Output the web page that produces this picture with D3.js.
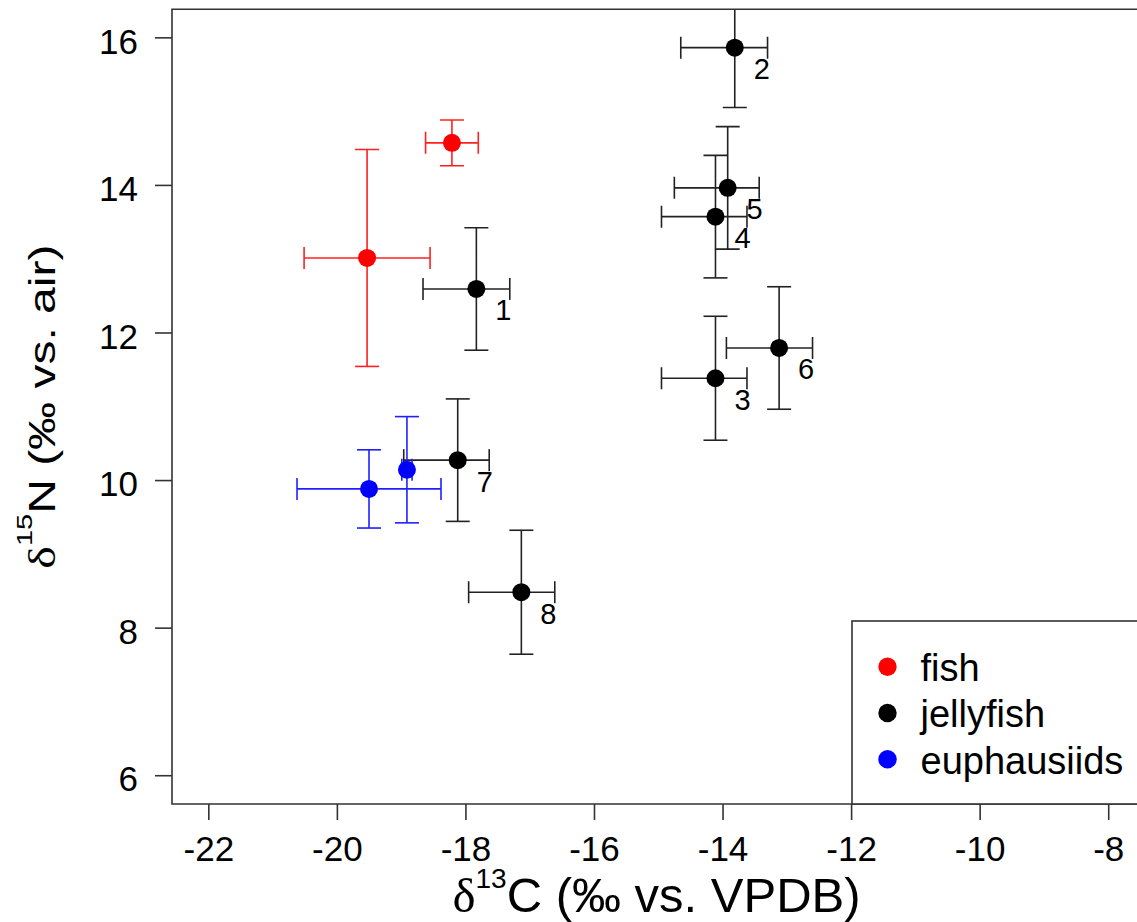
<!DOCTYPE html>
<html>
<head>
<meta charset="utf-8">
<script src="https://cdn.jsdelivr.net/npm/d3@7"></script>
<style>
  body { margin: 0; background: #fff; }
  svg { display: block; font-family: "Liberation Sans", Arial, sans-serif; }
</style>
</head>
<body>
<div id="chart"></div>
<script>
// fish (red)
const fishX = [-19.53, -18.21];
const fishXErr = [0.98, 0.41];
const fishY = [13.01, 14.57];
const fishYErr = [1.47, 0.31];

// jellyfish (black), labelled 1..8
const jellyLabels = ["1", "2", "3", "4", "5", "6", "7", "8"];
const jellyX = [-17.83, -13.81, -14.11, -14.11, -13.92, -13.12, -18.12, -17.13];
const jellyXLow = [-18.66, -14.65, -14.95, -14.95, -14.75, -13.94, -18.96, -17.95];
const jellyXHigh = [-17.31, -13.3, -13.62, -13.62, -13.43, -12.6, -17.63, -16.61];
const jellyY = [12.59, 15.86, 11.38, 13.57, 13.96, 11.79, 10.27, 8.48];
const jellyYErr = [0.83, 0.81, 0.84, 0.83, 0.83, 0.83, 0.83, 0.84];

// euphausiids (blue)
const euphX = [-19.5, -18.91];
const euphXErr = [1.12, 0.08];
const euphY = [9.88, 10.14];
const euphYErr = [0.53, 0.72];

const xTicks = [-22, -20, -18, -16, -14, -12, -10, -8];
const yTicks = [6, 8, 10, 12, 14, 16];
const legendNames = ["fish", "jellyfish", "euphausiids"];
const legendColors = ["#ff0000", "#000000", "#0000ff"];

const W = 1137, H = 922;
const box = { left: 172, right: 1141, top: 9.3, bottom: 804 };

const svg = d3.select("#chart").append("svg")
  .attr("width", W).attr("height", H);

const x = d3.scaleLinear().domain([-22.565, -7.49]).range([box.left, box.right]);
const y = d3.scaleLinear().domain([5.61, 16.38]).range([box.bottom, box.top]);

// build rows for drawing
const rows = [];
fishX.forEach((v, i) => rows.push({
  x: v, xl: v - fishXErr[i], xh: v + fishXErr[i],
  y: fishY[i], yl: fishY[i] - fishYErr[i], yh: fishY[i] + fishYErr[i],
  col: "#ff0000", line: "#ff2020"
}));
jellyX.forEach((v, i) => rows.push({
  x: v, xl: jellyXLow[i], xh: jellyXHigh[i],
  y: jellyY[i], yl: jellyY[i] - jellyYErr[i], yh: jellyY[i] + jellyYErr[i],
  col: "#000000", line: "#222222", label: jellyLabels[i]
}));
euphX.forEach((v, i) => rows.push({
  x: v, xl: v - euphXErr[i], xh: v + euphXErr[i],
  y: euphY[i], yl: euphY[i] - euphYErr[i], yh: euphY[i] + euphYErr[i],
  col: "#0000ff", line: "#2020ff"
}));

svg.append("clipPath").attr("id", "plotclip")
  .append("rect")
  .attr("x", box.left).attr("y", box.top)
  .attr("width", box.right - box.left).attr("height", box.bottom - box.top);

const plot = svg.append("g").attr("clip-path", "url(#plotclip)");

const capX = 11, capY = 12;
rows.forEach(function (d) {
  const g = plot.append("g")
    .attr("stroke", d.line)
    .attr("stroke-width", 1.6)
    .attr("fill", "none");
  const cx = x(d.x), cy = y(d.y);
  // horizontal bar + caps
  g.append("line").attr("x1", x(d.xl)).attr("x2", x(d.xh)).attr("y1", cy).attr("y2", cy);
  g.append("line").attr("x1", x(d.xl)).attr("x2", x(d.xl)).attr("y1", cy - capX).attr("y2", cy + capX);
  g.append("line").attr("x1", x(d.xh)).attr("x2", x(d.xh)).attr("y1", cy - capX).attr("y2", cy + capX);
  // vertical bar + caps
  g.append("line").attr("x1", cx).attr("x2", cx).attr("y1", y(d.yl)).attr("y2", y(d.yh));
  g.append("line").attr("x1", cx - capY).attr("x2", cx + capY).attr("y1", y(d.yl)).attr("y2", y(d.yl));
  g.append("line").attr("x1", cx - capY).attr("x2", cx + capY).attr("y1", y(d.yh)).attr("y2", y(d.yh));
  plot.append("circle").attr("cx", cx).attr("cy", cy).attr("r", 9).attr("fill", d.col);
});

// jellyfish numbers
svg.selectAll(".num")
  .data(rows.filter((d) => d.label))
  .enter()
  .append("text")
  .attr("class", "num")
  .attr("x", (d) => x(d.x) + 27)
  .attr("y", (d) => y(d.y) + 21)
  .attr("dy", "0.36em")
  .attr("text-anchor", "middle")
  .attr("font-size", 29)
  .attr("fill", "#000")
  .text((d) => d.label);

// box
svg.append("path")
  .attr("d", "M" + box.right + "," + box.top + "H" + box.left + "V" + box.bottom + "H" + box.right)
  .attr("fill", "none")
  .attr("stroke", "#333")
  .attr("stroke-width", 1.6);

// axes
const xAxis = svg.append("g")
  .attr("transform", "translate(0," + box.bottom + ")")
  .call(d3.axisBottom(x).tickValues(xTicks).tickSize(16).tickPadding(16)
    .tickFormat((d) => String(d)));
const yAxis = svg.append("g")
  .attr("transform", "translate(" + box.left + ",0)")
  .call(d3.axisLeft(y).tickValues(yTicks).tickSize(17).tickPadding(17)
    .tickFormat((d) => String(d)));
[xAxis, yAxis].forEach(function (a) {
  a.select(".domain").remove();
  a.selectAll(".tick line").attr("stroke", "#333").attr("stroke-width", 1.6);
  a.selectAll(".tick text")
    .attr("font-size", 35)
    .attr("font-family", "Liberation Sans, Arial, sans-serif")
    .attr("fill", "#000");
});
yAxis.selectAll(".tick text").attr("dy", "0.45em");

// axis titles
const xt = svg.append("text")
  .attr("x", (box.left + box.right) / 2)
  .attr("y", 912)
  .attr("text-anchor", "middle")
  .attr("font-size", 49)
  .attr("fill", "#000");
xt.append("tspan").attr("font-family", "Liberation Serif, serif").text("\u03b4");
xt.append("tspan").attr("font-size", 28).attr("dy", -24).text("13");
xt.append("tspan").attr("dy", 24).text("C (\u2030 vs. VPDB)");

const yt = svg.append("text")
  .attr("transform", "translate(55," + (box.top + box.bottom) / 2 + ") rotate(-90) scale(1,0.78)")
  .attr("text-anchor", "middle")
  .attr("font-size", 48)
  .attr("fill", "#000");
yt.append("tspan").attr("font-family", "Liberation Serif, serif").text("\u03b4");
yt.append("tspan").attr("font-size", 29).attr("dy", -29).text("15");
yt.append("tspan").attr("dy", 29).text("N (\u2030 vs. air)");

// legend
const lg = svg.append("g");
lg.append("rect")
  .attr("x", 852).attr("y", 621)
  .attr("width", box.right - 852 + 5).attr("height", box.bottom - 621)
  .attr("fill", "#fff")
  .attr("stroke", "#333")
  .attr("stroke-width", 1.6);
const ly = d3.scalePoint().domain(legendNames).range([666.7, 759.3]);
legendNames.forEach(function (n, i) {
  lg.append("circle").attr("cx", 887.5).attr("cy", ly(n)).attr("r", 9.2).attr("fill", legendColors[i]);
  lg.append("text")
    .attr("x", 920.5).attr("y", ly(n)).attr("dy", "0.38em")
    .attr("font-size", 38).attr("fill", "#000")
    .text(n);
});
</script>
</body>
</html>
